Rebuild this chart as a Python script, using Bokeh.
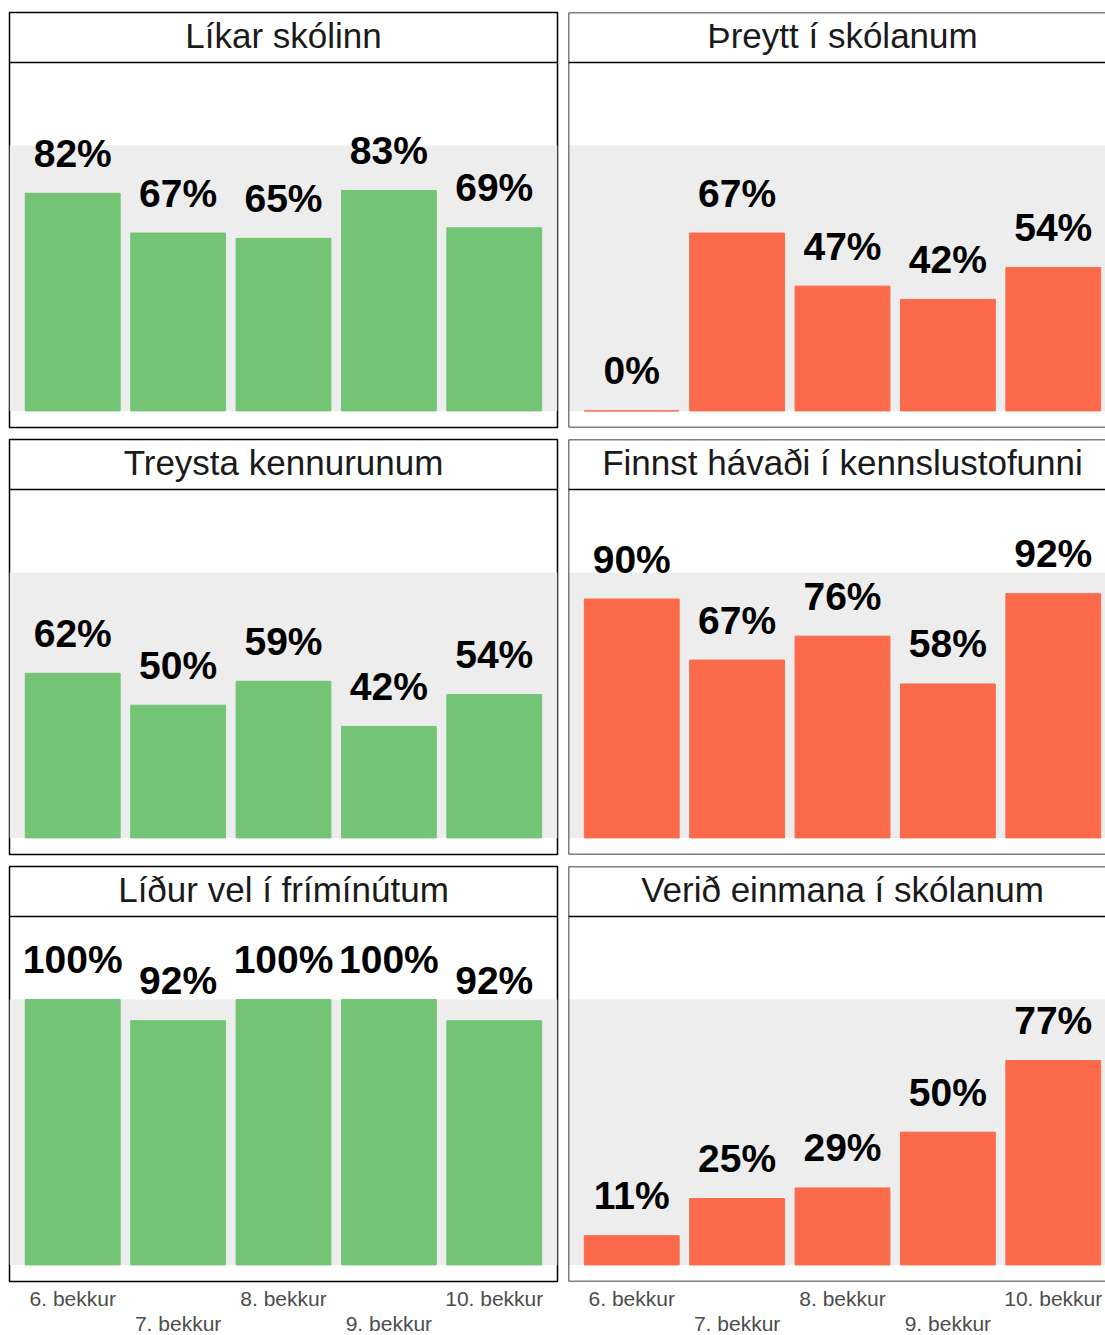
from bokeh.plotting import figure
from bokeh.layouts import gridplot
from bokeh.models import Range1d, BoxAnnotation, Span, FixedTicker, ColumnDataSource
from bokeh.core.properties import value
from bokeh.embed import file_html
from bokeh.resources import INLINE

grades = ["6. bekkur", "7. bekkur", "8. bekkur", "9. bekkur", "10. bekkur"]

titles = [
    "Líkar skólinn",
    "Þreytt í skólanum",
    "Treysta kennurunum",
    "Finnst hávaði í kennslustofunni",
    "Líður vel í frímínútum",
    "Verið einmana í skólanum",
]

likar_skolinn = [0.82, 0.67, 0.65, 0.83, 0.69]
threytt = [0.00, 0.67, 0.47, 0.42, 0.54]
treysta = [0.62, 0.50, 0.59, 0.42, 0.54]
havadi = [0.90, 0.67, 0.76, 0.58, 0.92]
lidur_vel = [1.00, 0.92, 1.00, 1.00, 0.92]
einmana = [0.11, 0.25, 0.29, 0.50, 0.77]

series = [likar_skolinn, threytt, treysta, havadi, lidur_vel, einmana]
positive = [True, False, True, False, True, False]

GREEN = "#74C476"
RED = "#FB6A4A"
GREY = "#EDEDED"
FONT = "Liberation Sans"

n = len(grades)
xs = list(range(1, n + 1))

# layout geometry (pixels)
FRAME_W_LEFT = 548
FRAME_W_RIGHT = 537
PANEL_H = 365
STRIP_H = 50
FRAME_H = PANEL_H + STRIP_H
Y0, Y1 = -0.0625, 1.3125
px_per_unit = PANEL_H / (Y1 - Y0)
Y_END = Y1 + STRIP_H / px_per_unit
X0, X1 = 0.4, n + 0.6
px_per_x = FRAME_W_LEFT / (X1 - X0)

figs = []
for i, (title, vals) in enumerate(zip(titles, series)):
    row, col = divmod(i, 2)
    bottom_row = row == 2
    right = col == 1
    x_end = X1 if not right else X0 + FRAME_W_RIGHT / px_per_x
    p = figure(
        output_backend="svg",
        toolbar_location=None,
        x_range=Range1d(X0, x_end),
        y_range=Range1d(Y0, Y_END),
        frame_width=FRAME_W_RIGHT if right else FRAME_W_LEFT,
        frame_height=FRAME_H,
        min_border_left=6 if right else 9,
        min_border_right=0 if right else 5,
        min_border_top=12 if row == 0 else 4,
        min_border_bottom=0 if bottom_row else 8,
        x_axis_location="below" if bottom_row else None,
        y_axis_location=None,
        background_fill_color="white",
        border_fill_color="white",
    )
    p.grid.visible = False
    if right:
        p.outline_line_color = None
        for loc in (Y0, Y_END):
            p.add_layout(Span(location=loc, dimension="width", line_color="black", line_width=1.5))
        p.add_layout(Span(location=X0, dimension="height", line_color="black", line_width=1.5))
    else:
        p.outline_line_color = "black"
        p.outline_line_width = 1.5
    # strip separator
    p.add_layout(Span(location=Y1, dimension="width", line_color="black", line_width=1.5))
    # grey band 0..1
    p.add_layout(BoxAnnotation(bottom=0, top=1, fill_color=GREY, fill_alpha=1.0,
                               line_color=None, level="underlay"))

    color = GREEN if positive[i] else RED
    src = ColumnDataSource(dict(x=xs, top=vals,
                                label=[f"{round(v * 100)}%" for v in vals]))
    p.vbar(x="x", top="top", bottom=0, width=0.9, source=src,
           fill_color=color, line_color=color, line_width=1)
    p.text(x="x", y="top", text="label", source=src,
           text_font=value(FONT), text_font_style="bold", text_font_size="39px",
           text_color="black", text_align="center", text_baseline="alphabetic",
           y_offset=-40)
    # strip title
    p.text(x=[(X0 + X1) / 2], y=[Y1], text=[title],
           text_font=value(FONT), text_font_size="35px", text_color="#1A1A1A",
           text_align="center", text_baseline="alphabetic", y_offset=-27)

    if bottom_row:
        ax = p.xaxis[0]
        ax.ticker = FixedTicker(ticks=xs)
        ax.major_label_overrides = {
            x: (g if k % 2 == 0 else "\n" + g) for k, (x, g) in enumerate(zip(xs, grades))
        }
        ax.axis_line_color = None
        ax.major_tick_line_color = None
        ax.minor_tick_line_color = None
        ax.major_tick_out = 0
        ax.major_tick_in = 0
        ax.major_label_standoff = 5
        ax.major_label_text_line_height = 1.1
        ax.major_label_text_font = FONT
        ax.major_label_text_font_size = "21px"
        ax.major_label_text_color = "#4D4D4D"
    figs.append(p)

grid = gridplot([figs[0:2], figs[2:4], figs[4:6]], toolbar_location=None)

open("out.html", "w").write(file_html(grid, INLINE))
